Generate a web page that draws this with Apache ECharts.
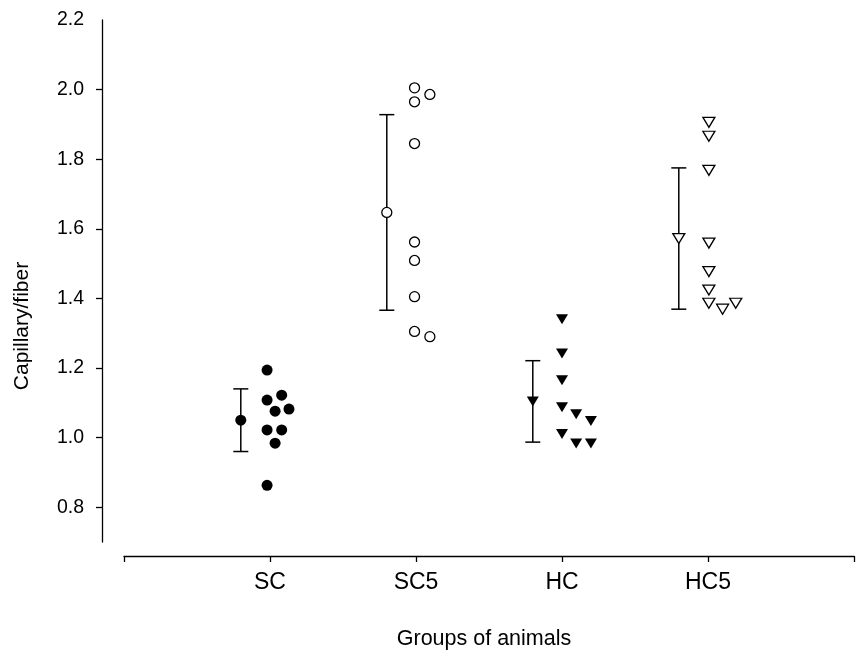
<!DOCTYPE html>
<html>
<head>
<meta charset="utf-8">
<script src="https://cdn.jsdelivr.net/npm/echarts@6/dist/echarts.min.js"></script>
<style>
html,body{margin:0;padding:0;background:#fff;}
#chart{width:857px;height:656px;}
</style>
</head>
<body>
<div id="chart"></div>
<script>
// ---- data ----
const categories = ['SC', 'SC5', 'HC', 'HC5'];
const scValues  = [1.194, 1.108, 1.122, 1.076, 1.082, 1.022, 1.022, 0.984, 0.863];
const sc5Values = [2.005, 1.986, 1.965, 1.845, 1.562, 1.509, 1.405, 1.305, 1.290];
const hcValues  = [1.340, 1.242, 1.165, 1.087, 1.067, 1.048, 1.010, 0.983, 0.983];
const hc5Values = [1.906, 1.866, 1.768, 1.559, 1.477, 1.424, 1.386, 1.369, 1.386];
const groupMeans = [1.050, 1.647, 1.104, 1.572];
const groupSD    = [0.090, 0.281, 0.117, 0.203];
const yTickValues  = [0.8, 1.0, 1.2, 1.4, 1.6, 1.8, 2.0];
const yLabelValues = [0.8, 1.0, 1.2, 1.4, 1.6, 1.8, 2.0, 2.2];

// ---- layout (jitter columns, in x-axis units) ----
const jitter = [
  [-0.02, -0.02, 0.08, 0.035, 0.13, -0.02, 0.08, 0.035, -0.02],
  [-0.01, 0.095, -0.01, -0.01, -0.01, -0.01, -0.01, -0.01, 0.095],
  [0, 0, 0, 0, 0.097, 0.198, 0, 0.097, 0.198],
  [0.006, 0.006, 0.006, 0.006, 0.006, 0.006, 0.006, 0.1, 0.19]
];
const meanOffset = -0.2;
const allValues = [scValues, sc5Values, hcValues, hc5Values];
const FONT = 'Liberation Sans, Arial, sans-serif';

const styles = [
  {symbol: 'circle', size: 11, rotate: 0, fill: '#000'},
  {symbol: 'circle', size: 10, rotate: 0, fill: '#fff'},
  {symbol: 'triangle', size: [12, 10], rotate: 180, fill: '#000'},
  {symbol: 'triangle', size: [12, 10], rotate: 180, fill: '#fff'}
];

const series = [];
// error bars
series.push({
  type: 'custom',
  data: groupMeans.map((m, i) => [i + 1 + meanOffset, m - groupSD[i], m + groupSD[i]]),
  renderItem: function (params, api) {
    const x = api.value(0);
    const lo = api.coord([x, api.value(1)]);
    const hi = api.coord([x, api.value(2)]);
    const hw = 7.5;
    const st = {stroke: '#000', lineWidth: 1.5};
    return {
      type: 'group',
      children: [
        {type: 'line', shape: {x1: lo[0], y1: lo[1], x2: hi[0], y2: hi[1]}, style: st},
        {type: 'line', shape: {x1: lo[0] - hw, y1: lo[1], x2: lo[0] + hw, y2: lo[1]}, style: st},
        {type: 'line', shape: {x1: hi[0] - hw, y1: hi[1], x2: hi[0] + hw, y2: hi[1]}, style: st}
      ]
    };
  },
  z: 2,
  silent: true
});
allValues.forEach((vals, g) => {
  const s = styles[g];
  const itemStyle = {color: s.fill, borderColor: '#000', borderWidth: s.fill === '#fff' ? 1.3 : 0, opacity: 1};
  series.push({
    type: 'scatter',
    name: categories[g],
    data: vals.map((v, i) => [g + 1 + jitter[g][i], v]),
    symbol: s.symbol, symbolSize: s.size, symbolRotate: s.rotate,
    itemStyle: itemStyle, z: 3
  });
  series.push({
    type: 'scatter',
    data: [[g + 1 + meanOffset, groupMeans[g]]],
    symbol: s.symbol, symbolSize: s.size, symbolRotate: s.rotate,
    itemStyle: itemStyle, z: 4
  });
});

const chart = echarts.init(document.getElementById('chart'), null, {renderer: 'canvas'});
chart.setOption({
  animation: false,
  backgroundColor: '#fff',
  grid: {left: 124, right: -10, top: 20, bottom: 114},
  xAxis: {
    type: 'value', min: 0, max: 5, interval: 1,
    offset: 14,
    splitLine: {show: false},
    axisLine: {show: true, onZero: false, lineStyle: {color: '#000', width: 1.3}},
    axisTick: {show: true, length: 6, inside: false, lineStyle: {color: '#000', width: 1.3}},
    axisLabel: {
      margin: 15, color: '#000', fontSize: 23, fontFamily: FONT,
      formatter: function (v) { const i = Math.round(v) - 1; return (i >= 0 && i < categories.length) ? categories[i] : ''; }
    }
  },
  yAxis: {
    type: 'value', min: 0.7, max: 2.2,
    offset: 22,
    splitLine: {show: false},
    axisLine: {show: true, onZero: false, lineStyle: {color: '#000', width: 1.3}},
    axisTick: {show: true, length: 6, customValues: yTickValues, lineStyle: {color: '#000', width: 1.3}},
    axisLabel: {
      margin: 18, color: '#000', fontSize: 19.5, fontFamily: FONT,
      customValues: yLabelValues,
      formatter: function (v) { return v.toFixed(1); }
    }
  },
  graphic: [
    {type: 'text', x: 484, y: 639, style: {text: 'Groups of animals', fontSize: 21.5, fontFamily: FONT, fill: '#000', align: 'center', verticalAlign: 'middle'}},
    {type: 'text', rotation: Math.PI / 2, x: 22, y: 326, style: {text: 'Capillary/fiber', fontSize: 21, fontFamily: FONT, fill: '#000', align: 'center', verticalAlign: 'middle'}}
  ],
  series: series
});
</script>
</body>
</html>
